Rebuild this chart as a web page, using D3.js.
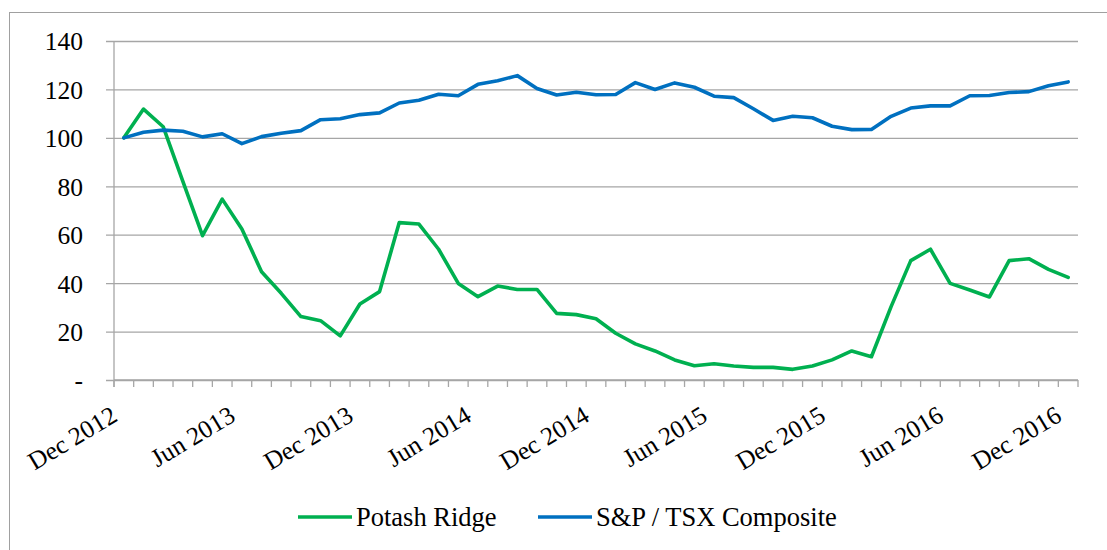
<!DOCTYPE html>
<html>
<head>
<meta charset="utf-8">
<script src="https://cdn.jsdelivr.net/npm/d3@7"></script>
<style>
  html, body { margin: 0; padding: 0; background: #ffffff; }
  svg { display: block; }
</style>
</head>
<body>
<svg id="chart" width="1107" height="550"></svg>
<script>
const categories = [
  "Dec 2012","Jan 2013","Feb 2013","Mar 2013","Apr 2013","May 2013","Jun 2013","Jul 2013","Aug 2013","Sep 2013","Oct 2013","Nov 2013",
  "Dec 2013","Jan 2014","Feb 2014","Mar 2014","Apr 2014","May 2014","Jun 2014","Jul 2014","Aug 2014","Sep 2014","Oct 2014","Nov 2014",
  "Dec 2014","Jan 2015","Feb 2015","Mar 2015","Apr 2015","May 2015","Jun 2015","Jul 2015","Aug 2015","Sep 2015","Oct 2015","Nov 2015",
  "Dec 2015","Jan 2016","Feb 2016","Mar 2016","Apr 2016","May 2016","Jun 2016","Jul 2016","Aug 2016","Sep 2016","Oct 2016","Nov 2016",
  "Dec 2016"
];
const tickLabels = ["Dec 2012","Jun 2013","Dec 2013","Jun 2014","Dec 2014","Jun 2015","Dec 2015","Jun 2016","Dec 2016"];
const yTicks = [0, 20, 40, 60, 80, 100, 120, 140];

const potashRidge = [100, 111.9, 104.6, 82, 59.6, 74.7, 62.4, 44.7, 35.8, 26.2, 24.5, 18.2,
  31.4, 36.5, 65, 64.4, 54.0, 39.9, 34.4, 38.8, 37.4, 37.4, 27.5, 27.0,
  25.3, 19.3, 14.9, 12.0, 8.3, 5.9, 6.7, 5.8, 5.2, 5.2, 4.4, 5.8,
  8.3, 12.0, 9.6, 30.3, 49.3, 54.0, 39.9, 37.2, 34.3, 49.3, 50.1, 45.7,
  42.4];
const spTsx = [100, 102.3, 103.2, 102.7, 100.4, 101.7, 97.6, 100.5, 101.9, 103.0, 107.5, 107.9,
  109.6, 110.3, 114.4, 115.5, 118.0, 117.4, 122.1, 123.6, 125.7, 120.4, 117.7, 118.8,
  117.8, 117.9, 122.8, 120.0, 122.7, 120.9, 117.2, 116.6, 112.0, 107.2, 108.9, 108.3,
  104.8, 103.4, 103.5, 108.9, 112.3, 113.2, 113.2, 117.4, 117.5, 118.7, 119.1, 121.5,
  123.1];

const seriesNames = ["Potash Ridge", "S&P / TSX Composite"];
const seriesColors = ["#00B050", "#0070C0"];
const series = [potashRidge, spTsx];

const svg = d3.select("#chart");
const FONT = "'Liberation Serif'";
function serif(sel, size) {
  return sel.style("font-family", FONT).style("font-size", size).style("fill", "#000");
}

// outer chart border
svg.append("rect")
  .attr("x", 9.5).attr("y", 12.5)
  .attr("width", 1300).attr("height", 700)
  .attr("fill", "none").attr("stroke", "#a0a0a0").attr("stroke-width", 1);

const pLeft = 114, pRight = 1078, pTop = 41, pBottom = 380;
const x = d3.scaleBand().domain(categories).range([pLeft, pRight]).padding(0);
const y = d3.scaleLinear().domain([0, 140]).range([pBottom, pTop]);

// gridlines + y axis
const yAxis = d3.axisLeft(y).tickValues(yTicks)
  .tickSize(-(pRight - pLeft)).tickPadding(0)
  .tickFormat(d => d === 0 ? "-" : d);
const gy = svg.append("g").attr("transform", `translate(${pLeft},0)`).call(yAxis);
gy.select(".domain").remove();
gy.selectAll(".tick line")
  .attr("x1", -8)
  .attr("stroke", "#a6a6a6").attr("stroke-width", 1.3);
serif(gy.selectAll(".tick text"), "25.5px")
  .attr("x", -31)
  .attr("dy", "0.35em");

// y axis line
svg.append("line")
  .attr("x1", pLeft).attr("x2", pLeft)
  .attr("y1", pTop).attr("y2", pBottom + 7)
  .attr("stroke", "#a6a6a6").attr("stroke-width", 1.3);

// x axis line and ticks at category boundaries
svg.append("line")
  .attr("x1", pLeft).attr("x2", pRight)
  .attr("y1", pBottom).attr("y2", pBottom)
  .attr("stroke", "#a6a6a6").attr("stroke-width", 1.3);
const boundaries = categories.map(c => x(c)).concat([x(categories[categories.length - 1]) + x.bandwidth()]);
svg.append("g").selectAll("line").data(boundaries).join("line")
  .attr("x1", d => d).attr("x2", d => d)
  .attr("y1", pBottom).attr("y2", pBottom + 7)
  .attr("stroke", "#a6a6a6").attr("stroke-width", 1.3);

// x tick labels
serif(svg.append("g").selectAll("text").data(tickLabels).join("text"), "25.5px")
  .attr("transform", d => {
    const cx = x(d) + x.bandwidth() / 2 - 5;
    return `translate(${cx},${pBottom + 40}) rotate(-31)`;
  })
  .attr("text-anchor", "end")
  .text(d => d);

// lines
const line = d3.line()
  .x((d, i) => x(categories[i]) + x.bandwidth() / 2)
  .y(d => y(d));
series.forEach((s, k) => {
  svg.append("path")
    .datum(s)
    .attr("d", line)
    .attr("fill", "none")
    .attr("stroke", seriesColors[k])
    .attr("stroke-width", 3.6)
    .attr("stroke-linejoin", "round")
    .attr("stroke-linecap", "round");
});

// legend
const legendItems = [
  { name: seriesNames[0], color: seriesColors[0], x0: 298 },
  { name: seriesNames[1], color: seriesColors[1], x0: 538 }
];
const lg = svg.append("g");
legendItems.forEach(it => {
  lg.append("line")
    .attr("x1", it.x0).attr("x2", it.x0 + 54)
    .attr("y1", 517).attr("y2", 517)
    .attr("stroke", it.color).attr("stroke-width", 3.6);
  serif(lg.append("text"), "26.5px")
    .attr("x", it.x0 + 58).attr("y", 526)
    .text(it.name);
});
</script>
</body>
</html>
